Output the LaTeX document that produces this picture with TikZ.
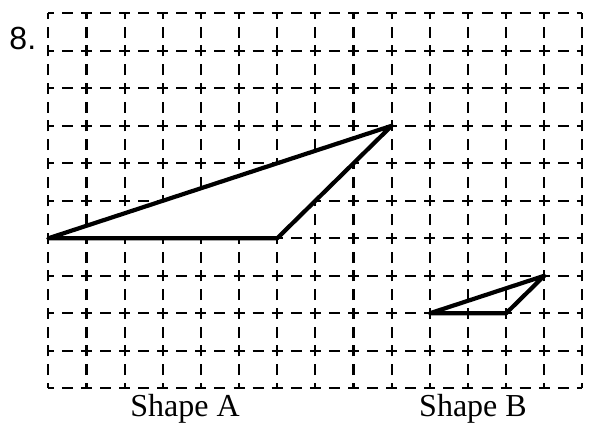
\documentclass[tikz,border=0pt]{standalone}
\usepackage{fontspec}
\setmainfont{Liberation Serif}
\newfontfamily\numfont{Liberation Sans}
\begin{document}
\begin{tikzpicture}[x=38.15pt,y=37.5pt,
  hgrid/.style={line width=2.1pt,dash pattern=on 11pt off 8.075pt,dash phase=5.5pt},
  vgrid/.style={line width=2.1pt,dash pattern=on 11pt off 7.75pt,dash phase=5.5pt},
  shapeline/.style={line width=4.2pt,line join=round},
  lbl/.style={inner sep=0pt,anchor=base,font=\fontsize{32}{32}\selectfont}]
\useasboundingbox (-48.3pt,-36.7pt) rectangle (541.7pt,388.3pt);
\foreach \j in {0,...,10} \draw[hgrid] (0,\j) -- (14,\j);
\foreach \i in {0,...,14} \draw[vgrid] (\i,0) -- (\i,10);
\coordinate (a1) at (0,4);
\coordinate (a2) at (6,4);
\coordinate (a3) at (9,7);
\coordinate (b1) at (10,2);
\coordinate (b2) at (12,2);
\coordinate (b3) at (13,3);
\draw[shapeline,fill=white] (a1) -- (a2) -- (a3) -- cycle;
\draw[shapeline] (b1) -- (b2) -- (b3) -- cycle;
\node[inner sep=0pt,anchor=base west,font=\numfont\fontsize{32}{32}\selectfont] (num) at (-39pt,338.3pt) {8.};
\node[lbl] (la) at (136.7pt,-28.4pt) {Shape A};
\node[lbl] (lb) at (424.7pt,-28.4pt) {Shape B};
\end{tikzpicture}
\end{document}
